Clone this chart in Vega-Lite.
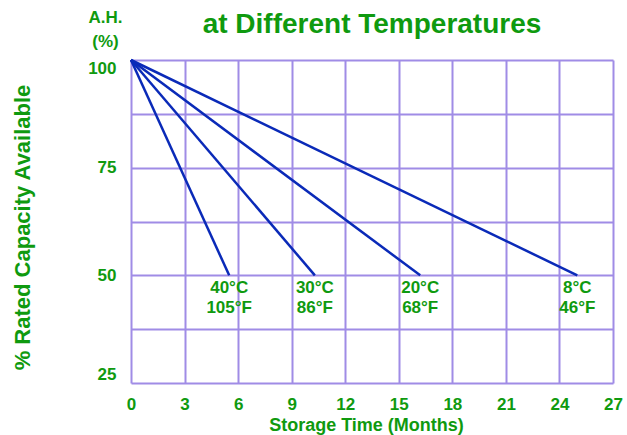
{
  "$schema": "https://vega.github.io/schema/vega-lite/v6.json",
  "width": 482,
  "height": 323,
  "autosize": {"type": "none"},
  "padding": {"left": 131, "top": 60, "right": 14, "bottom": 52},
  "background": "white",
  "title": {
    "text": "at Different Temperatures",
    "font": "Liberation Sans",
    "fontSize": 28,
    "fontWeight": "bold",
    "color": "#0f9a0f",
    "anchor": "middle",
    "frame": "group",
    "baseline": "alphabetic",
    "offset": -53
  },
  "config": {
    "view": {"stroke": null},
    "font": "Liberation Sans",
    "axis": {
      "labelFont": "Liberation Sans",
      "titleFont": "Liberation Sans",
      "labelFontWeight": "bold",
      "titleFontWeight": "bold",
      "labelColor": "#0f9a0f",
      "titleColor": "#0f9a0f",
      "ticks": false,
      "domain": false,
      "gridColor": "#a08ce6",
      "gridWidth": 2,
      "gridOpacity": 1
    }
  },
  "data": {
    "values": [
      {"temp": "40C", "month": 0, "capacity": 100, "label": ""},
      {"temp": "40C", "month": 5.5, "capacity": 50, "label": "40°C\n105°F"},
      {"temp": "30C", "month": 0, "capacity": 100, "label": ""},
      {"temp": "30C", "month": 10.3, "capacity": 50, "label": "30°C\n86°F"},
      {"temp": "20C", "month": 0, "capacity": 100, "label": ""},
      {"temp": "20C", "month": 16.2, "capacity": 50, "label": "20°C\n68°F"},
      {"temp": "8C", "month": 0, "capacity": 100, "label": ""},
      {"temp": "8C", "month": 25, "capacity": 50, "label": "8°C\n46°F"}
    ]
  },
  "layer": [
    {
      "mark": {"type": "line", "color": "#0a2ab8", "strokeWidth": 2.5},
      "encoding": {
        "x": {
          "field": "month",
          "type": "quantitative",
          "scale": {"domain": [0, 27], "nice": false, "zero": false},
          "axis": {
            "values": [0, 3, 6, 9, 12, 15, 18, 21, 24, 27],
            "title": "Storage Time (Months)",
            "labelFontSize": 17,
            "labelPadding": 13,
            "labelFlush": false,
            "titleFontSize": 18,
            "titlePadding": 4,
            "titleX": 235,
            "titleAlign": "center",
            "grid": true
          }
        },
        "y": {
          "field": "capacity",
          "type": "quantitative",
          "scale": {"domain": [25, 100], "nice": false, "zero": false},
          "axis": {
            "orient": "left",
            "values": [25, 37.5, 50, 62.5, 75, 87.5, 100],
            "labelExpr": "datum.value % 25 === 0 ? datum.label : ''",
            "labelFontSize": 17,
            "labelPadding": 15,
            "labelFlush": true,
            "grid": true,
            "title": "% Rated Capacity Available",
            "titleFontSize": 22,
            "titleAngle": -90,
            "titleAlign": "center",
            "titleBaseline": "middle",
            "titleX": -109,
            "titleY": 167
          }
        },
        "detail": {"field": "temp"}
      }
    },
    {
      "transform": [{"filter": "datum.capacity == 50"}],
      "mark": {
        "type": "text",
        "font": "Liberation Sans",
        "fontSize": 17,
        "fontWeight": "bold",
        "color": "#0f9a0f",
        "align": "center",
        "baseline": "top",
        "lineBreak": "\n",
        "lineHeight": 20,
        "dy": 5
      },
      "encoding": {
        "x": {"field": "month", "type": "quantitative"},
        "y": {
          "field": "capacity",
          "type": "quantitative",
          "axis": {
            "orient": "left",
            "title": ["A.H.", "(%)"],
            "titleFontSize": 17,
            "titleAngle": 0,
            "titleAlign": "center",
            "titleBaseline": "middle",
            "titleLineHeight": 24,
            "titleX": -26,
            "titleY": -43,
            "labels": false,
            "grid": false
          }
        },
        "text": {"field": "label"}
      }
    }
  ],
  "resolve": {"axis": {"y": "independent"}}
}
